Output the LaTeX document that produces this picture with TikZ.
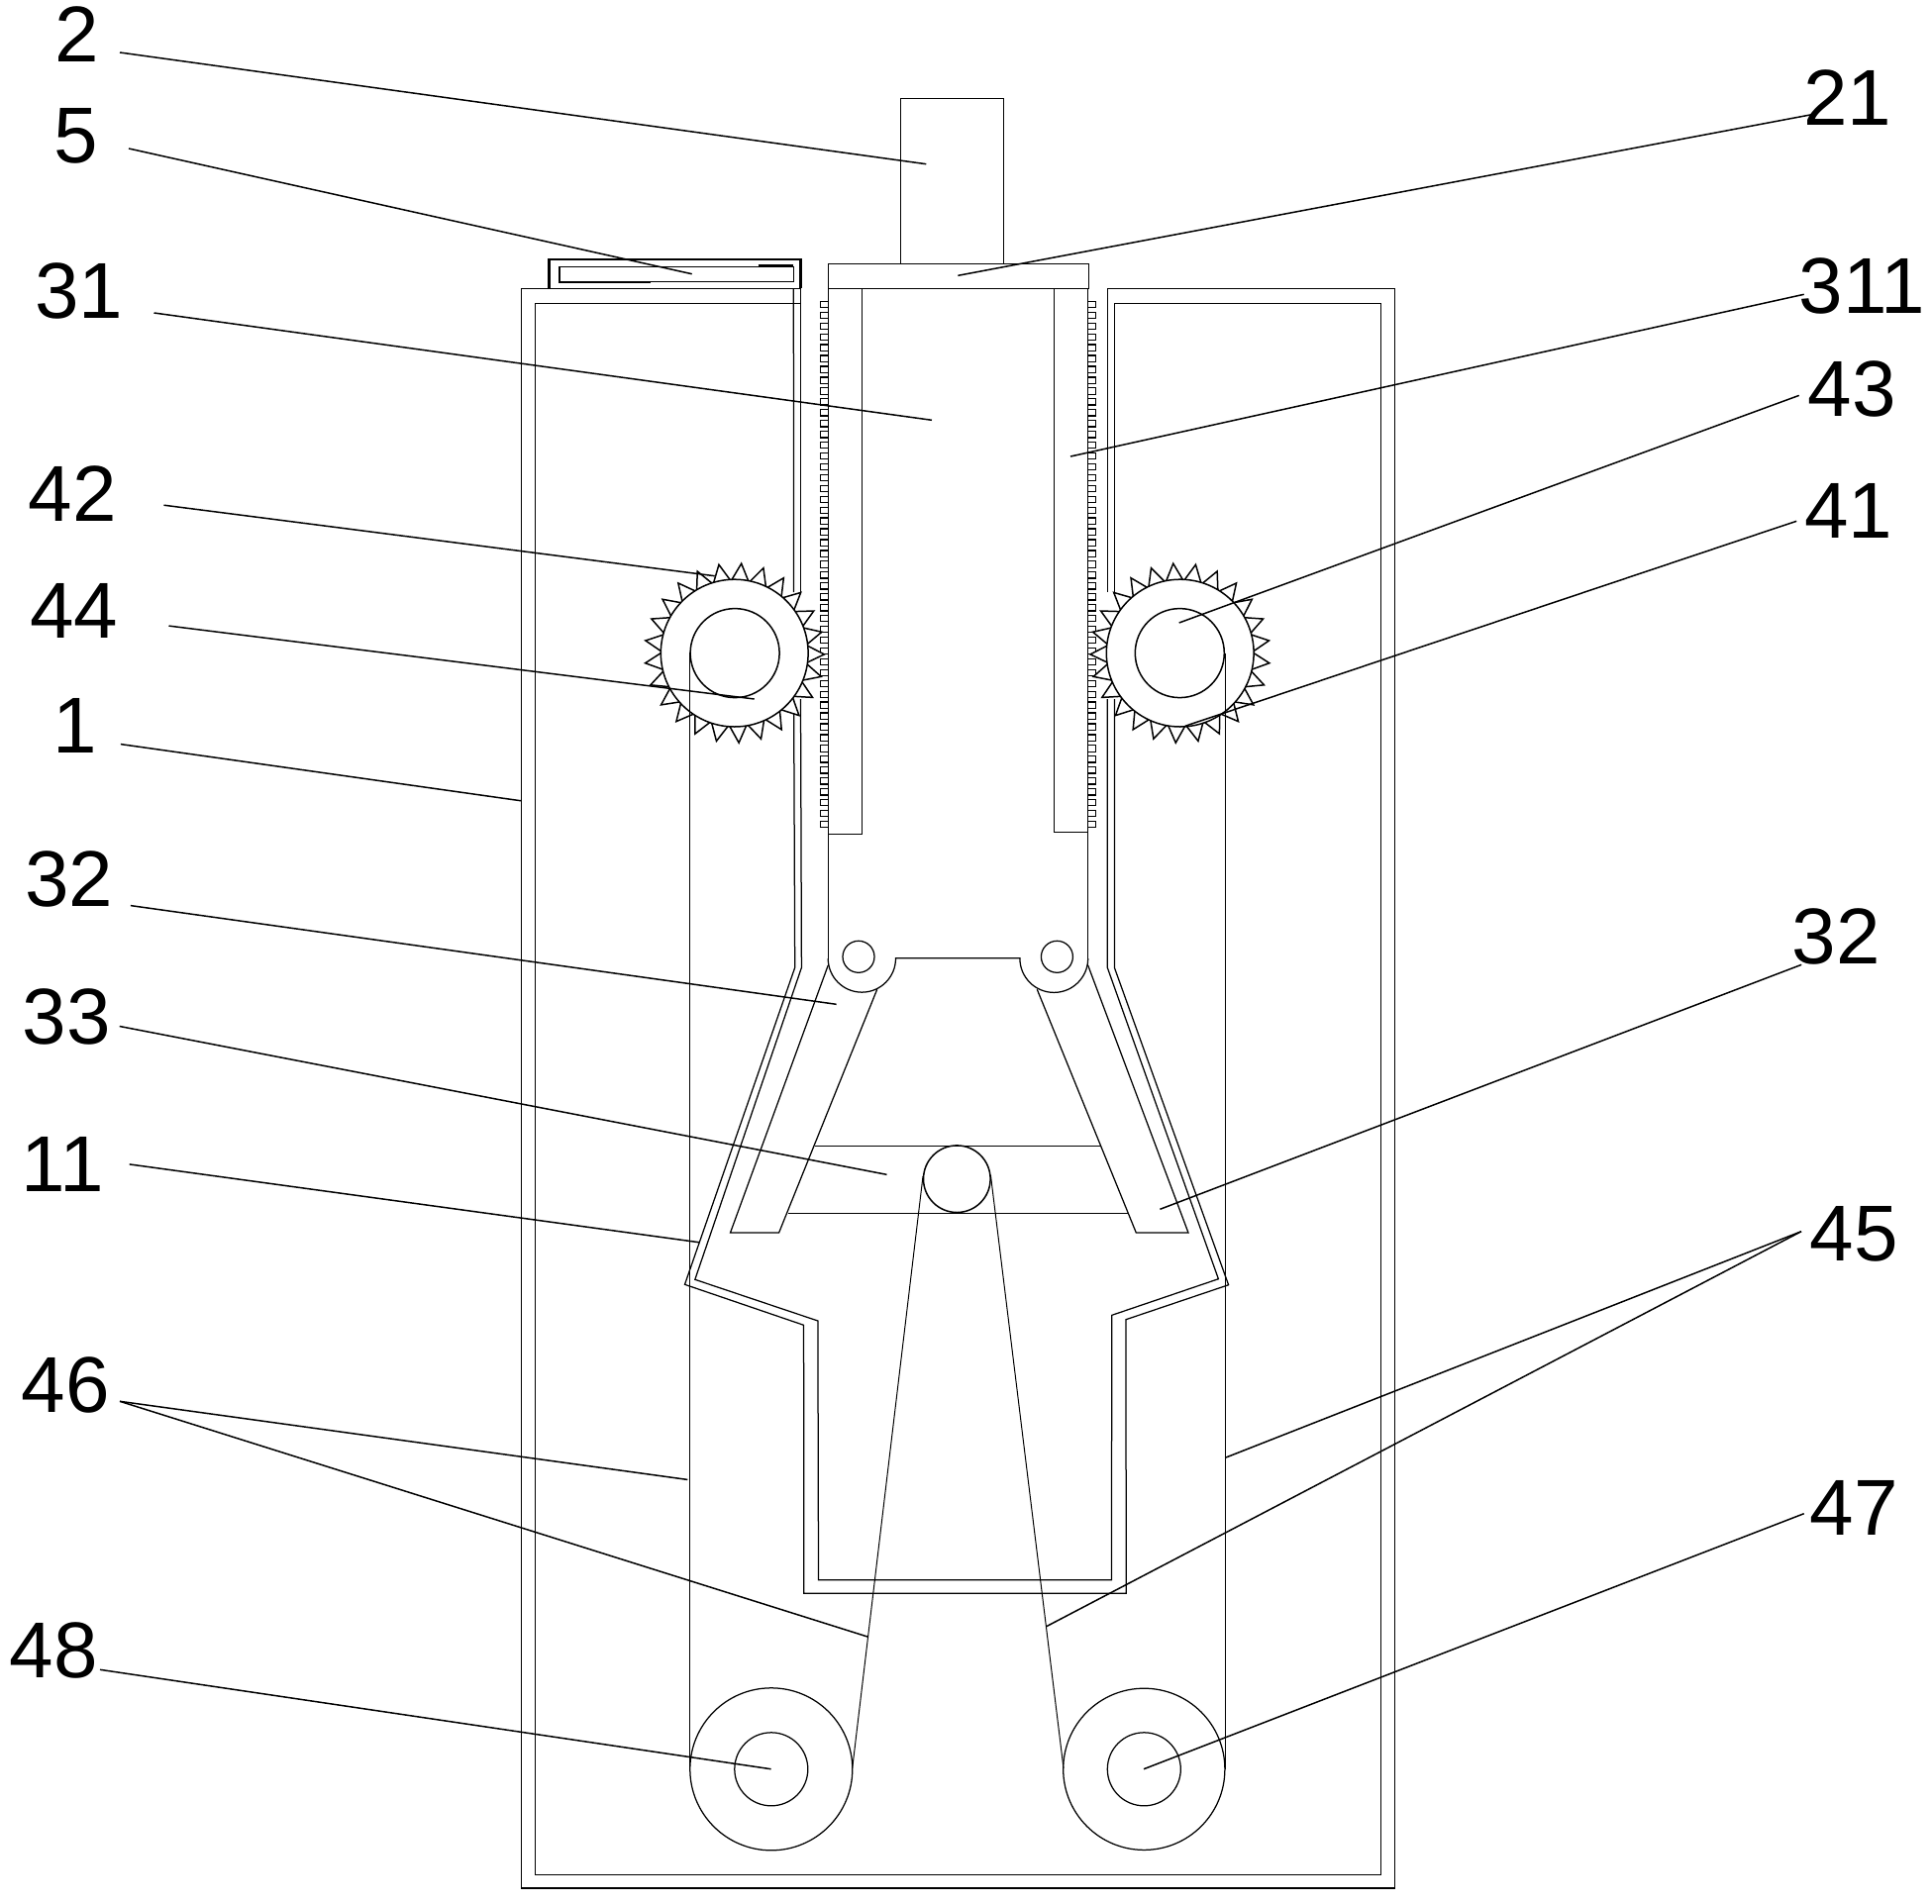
\documentclass[tikz,border=0pt]{standalone}
\usepackage{fontspec}
\setmainfont{Liberation Sans}
\begin{document}
\begin{tikzpicture}[%
x=1pt,y=1pt,yscale=-1,
line join=miter,
part/.style={
line width=1.25pt,},
gear/.style={
line width=1.5pt,},
belt/.style={
line width=1pt,},
lead/.style={
line width=1.5pt,},
tag/.style={
inner sep=0pt,
font=\fontsize{80}{84}\selectfont,}
]
\useasboundingbox (0,0) rectangle (1951,1922);
% casing, outer line
\draw[part] (808.5,598) -- (808.5,291.3) -- (526.3,291.3) -- (526.3,1907) -- (1408.7,1907) -- (1408.7,291.3) -- (1118.3,291.3) -- (1118.3,598);
\draw[part] (808.5,706) -- (809.4,977.3) -- (701.8,1292.3) -- (825.9,1334) -- (826.5,1595.7) -- (1122.4,1595.7) -- (1122.8,1328.3) -- (1230.4,1291.7) -- (1118.3,977.3) -- (1118.3,706);
% casing, inner line
\draw[part] (808.5,306.3) -- (540.6,306.3) -- (540.6,1893.3) -- (1394.4,1893.3) -- (1394.4,306.3) -- (1125.4,306.3) -- (1125.4,598);
\draw[part] (801.3,291.3) -- (801.6,598);
\draw[part] (801.6,706) -- (802.7,977.3) -- (691.5,1297.3) -- (811.6,1338.3) -- (811.7,1609.3) -- (1137.2,1609.3) -- (1137,1332.7) -- (1240.6,1297.7) -- (1125.4,977.3) -- (1125.4,706);
% box on the lid
\draw[line width=2.3pt] (554.5,291.3) -- (554.5,262) -- (808.5,262) -- (808.5,291.3);
\draw[part] (564.7,269.3) rectangle (801.3,284.7);
\draw[line width=2.3pt] (657,284.7) -- (564.7,284.7) -- (564.7,269.3);
\draw[line width=2.3pt] (765.6,268.6) -- (801.3,268.6);
% motor and plate
\draw[part] (909.4,266.3) -- (909.4,99.3) -- (1013.4,99.3) -- (1013.4,266.3);
\draw[part] (836.6,266.3) rectangle (1099.6,291.3);
% slider
\draw[part] (836.6,291.3) -- (836.6,975);
\draw[part] (1098.7,291.3) -- (1098.7,975);
\draw[part] (870.3,291.3) -- (870.3,842.3) -- (836.6,842.3);
\draw[part] (1064.3,291.3) -- (1064.3,840.3) -- (1098.7,840.3);
\foreach \k in {0,...,48}{
\draw[part] (828.6,304.3+10.94*\k) rectangle (836.3,310.6+10.94*\k);
\draw[part] (1098.7,304.3+10.94*\k) rectangle (1106.3,310.6+10.94*\k);
}
% hinges and arms
\draw[part] (867,966.3) circle (16);
\draw[part] (1067.4,966.3) circle (16);
\draw[part] (836.2,968) arc[start angle=180,end angle=0,radius=34.15] -- (904.5,967.7) -- (1029.9,967.7) -- (1029.9,968) arc[start angle=180,end angle=0,radius=34.4];
\draw[part] (836.2,975) -- (737.5,1245) -- (786.6,1245) -- (885.7,999.3);
\draw[part] (1098.7,975) -- (1200,1245) -- (1147.3,1245) -- (1047.3,999.3);
\draw[part] (822.8,1157.3) -- (1111.2,1157.3);
\draw[part] (796,1225.3) -- (1139.3,1225.3);
\draw[gear] (966.3,1190.7) circle (33.8);
% gears
\foreach \gx/\gs in {741.7/1,1191.7/-1}{
\begin{scope}[shift={(\gx,659.6)},xscale=\gs]
\foreach \k in {0,...,24}{
\draw[gear,fill=white] (0.8+14.4*\k-6.4:74.4) -- (0.8+14.4*\k:90.7) -- (0.8+14.4*\k+6.4:74.4);
}
\draw[gear,fill=white] (0,0) circle (74.4);
\draw[gear] (0.4,0) circle (45);
\end{scope}
}
% rollers
\draw[part] (778.8,1786.8) circle (82);
\draw[part] (778.8,1786.8) circle (37);
\draw[part] (1155.3,1786.8) circle (81.6);
\draw[part] (1155.3,1786.8) circle (37);
% belts
\draw[belt] (696.6,659) -- (696.6,1787);
\draw[belt] (1237.3,660) -- (1237.3,1787);
\draw[belt] (932,1188) -- (860.7,1786);
\draw[belt] (1000.4,1186.7) -- (1074,1786);
% labels
\node[tag] (2) at (78,35) {2};
\node[tag] (5) at (76.5,137) {5};
\node[tag] (31) at (79.6,293.6) {31};
\node[tag] (21) at (1865.7,98.3) {21};
\node[tag] (311) at (1880.3,289) {311};
\node[tag] (43) at (1870,393.2) {43};
\node[tag] (41) at (1866.5,516.4) {41};
\node[tag] (42) at (73.4,499) {42};
\node[tag] (44) at (74.7,617.2) {44};
\node[tag] (1) at (75.9,732.9) {1};
\node[tag] (32l) at (69.7,888.4) {32};
\node[tag] (33) at (67.2,1026.5) {33};
\node[tag] (11) at (63.5,1175.9) {11};
\node[tag] (32r) at (1854,945.7) {32};
\node[tag] (45) at (1872,1246.7) {45};
\node[tag] (46) at (66.3,1398.7) {46};
\node[tag] (47) at (1872,1523.2) {47};
\node[tag] (48) at (54.2,1667) {48};
% free ends of the leaders
\coordinate (e2) at (935.3,165.7);
\coordinate (e5) at (698.7,276.7);
\coordinate (e31) at (941,424.3);
\coordinate (e21) at (967.4,278.3);
\coordinate (e311) at (1081,461);
\coordinate (e43) at (1190.7,629);
\coordinate (e41) at (1196.7,733.3);
\coordinate (e42) at (721.7,581.7);
\coordinate (e44) at (761.7,706);
\coordinate (e1) at (526.3,808.8);
\coordinate (e32l) at (844.6,1014.3);
\coordinate (e33) at (895.5,1186.3);
\coordinate (e11) at (705.8,1254.7);
\coordinate (e32r) at (1171.4,1221.3);
\coordinate (e45a) at (1238,1472);
\coordinate (e45b) at (1056.6,1642.7);
\coordinate (e46a) at (694.3,1494.4);
\coordinate (e46b) at (877,1653.3);
\coordinate (e47) at (1155,1786.7);
\coordinate (e48) at (778.6,1786.7);
% leaders
\draw[lead] (2) ++(43,18) -- (e2);
\draw[lead] (5) ++(53.5,13) -- (e5);
\draw[lead] (31) ++(75.9,22.4) -- (e31);
\draw[lead] (21) ++(-32.4,16.7) -- (e21);
\draw[lead] (311) ++(-58.6,8.3) -- (e311);
\draw[lead] (43) ++(-53.3,6.2) -- (e43);
\draw[lead] (41) ++(-52.3,9.9) -- (e41);
\draw[lead] (42) ++(92.1,11.2) -- (e42);
\draw[lead] (44) ++(95.8,14.9) -- (e44);
\draw[lead] (1) ++(46,18.7) -- (e1);
\draw[lead] (32l) ++(62.2,26.2) -- (e32l);
\draw[lead] (33) ++(53.5,10) -- (e33);
\draw[lead] (11) ++(67.2,0) -- (e11);
\draw[lead] (32r) ++(-34.8,28.6) -- (e32r);
\draw[lead] (45) ++(-53,-3) -- (e45a);
\draw[lead] (45) ++(-53,-3) -- (e45b);
\draw[lead] (46) ++(54.7,16.6) -- (e46a);
\draw[lead] (46) ++(54.7,16.6) -- (e46b);
\draw[lead] (47) ++(-50.3,5.5) -- (e47);
\draw[lead] (48) ++(46.8,19.3) -- (e48);
\end{tikzpicture}
\end{document}
